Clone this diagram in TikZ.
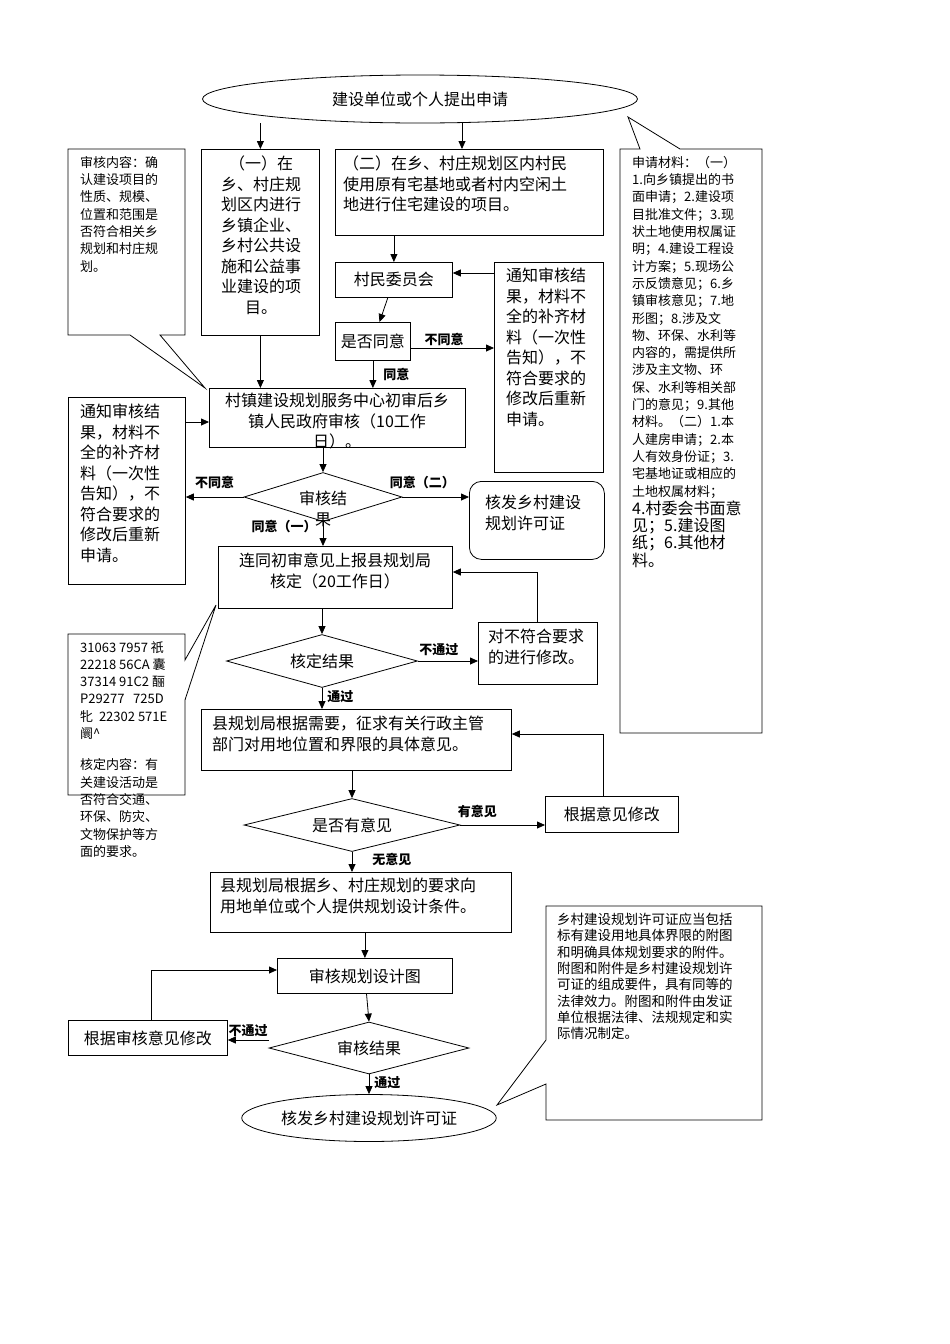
\documentclass[tikz,border=0pt]{standalone}
\usepackage{fontspec}
\setmainfont{Noto Sans CJK SC}
\usetikzlibrary{shapes.geometric,arrows.meta}
\begin{document}
\begin{tikzpicture}[x=1pt,y=-1pt,
  every node/.style={inner sep=2pt},
  box/.style={draw,line width=0.8pt,align=center,font=\fontsize{16}{20}\selectfont},
  dia/.style={draw,diamond,aspect=4.5,line width=0.8pt,font=\fontsize{16}{20}\selectfont,inner sep=0pt},
  arr/.style={-{Triangle[length=8pt,width=7pt]},line width=0.8pt},
  lab/.style={font=\fontsize{13}{15}\selectfont\bfseries},
  note/.style={align=left,font=\fontsize{13}{17.3}\selectfont,anchor=north west,inner sep=0pt},
  big/.style={font=\fontsize{16}{20.5}\selectfont},
  call/.style={draw,line width=0.8pt,fill=white}]
\useasboundingbox (0,0) rectangle (950,1344);
% callouts
\draw[call] (68,149) -- (185,149) -- (185,335) -- (160,335) -- (205,388) -- (130,335) -- (68,335) -- cycle;
\node[note] (n1) at (80,156) {审核内容：确\\认建设项目的\\性质、规模、\\位置和范围是\\否符合相关乡\\规划和村庄规\\划。};
\draw[call] (620,149) -- (640,149) -- (628,117) -- (680,149) -- (762,149) -- (762,733) -- (620,733) -- cycle;
\node[note] (n2) at (632,156) {申请材料：（一）\\1.向乡镇提出的书\\面申请；2.建设项\\目批准文件；3.现\\状土地使用权属证\\明；4.建设工程设\\计方案；5.现场公\\示反馈意见；6.乡\\镇审核意见；7.地\\形图；8.涉及文\\物、环保、水利等\\内容的，需提供所\\涉及主文物、环\\保、水利等相关部\\门的意见；9.其他\\材料。（二）1.本\\人建房申请；2.本\\人有效身份证；3.\\宅基地证或相应的\\土地权属材料；\\[1pt]{\fontsize{16}{20.5}\selectfont 4.村委会书面意}\\{\fontsize{16}{20.5}\selectfont 见；5.建设图}\\{\fontsize{16}{20.5}\selectfont 纸；6.其他材}\\{\fontsize{16}{20.5}\selectfont 料。}};
\draw[call] (68,634) -- (185,634) -- (185,660) -- (216,605) -- (185,700) -- (185,795) -- (68,795) -- cycle;
\node[note] (n3) at (80,641) {31063 7957 祇\\22218 56CA 囊\\37314 91C2 酾\\P29277 \ \ 725D\\牝 \ 22302 571E\\阛\textasciicircum\\[14pt]核定内容：有\\关建设活动是\\否符合交通、\\环保、防灾、\\文物保护等方\\面的要求。};
\draw[call] (546,906) -- (762,906) -- (762,1120) -- (546,1120) -- (546,1084) -- (497,1105) -- (546,1040) -- cycle;
\node[note,font=\fontsize{13.5}{16.3}\selectfont] (n4) at (557,913) {乡村建设规划许可证应当包括\\标有建设用地具体界限的附图\\和明确具体规划要求的附件。\\附图和附件是乡村建设规划许\\可证的组成要件，具有同等的\\法律效力。附图和附件由发证\\单位根据法律、法规规定和实\\际情况制定。};
% nodes
\node[draw,ellipse,line width=0.8pt,minimum width=435pt,minimum height=48pt,font=\fontsize{16}{20}\selectfont] (start) at (420,99) {建设单位或个人提出申请};
\node[box,minimum width=118pt,minimum height=186pt,anchor=north west] (b1) at (201,149) {};
\node[note,big,align=center,anchor=north] at (261,156) {（一）在\\乡、村庄规\\划区内进行\\乡镇企业、\\乡村公共设\\施和公益事\\业建设的项\\目。};
\node[box,minimum width=268pt,minimum height=86pt,anchor=north west] (b2) at (335,149) {};
\node[note,big] at (343,156) {（二）在乡、村庄规划区内村民\\使用原有宅基地或者村内空闲土\\地进行住宅建设的项目。};
\node[box,minimum width=117pt,minimum height=35pt,anchor=north west] (cwh) at (335,262) {};
\node at (cwh.center) [big] {村民委员会};
\node[box,minimum width=75pt,minimum height=38pt,anchor=north west] (sfty) at (335,322) {};
\node at (sfty.center) [big] {是否同意};
\node[box,minimum width=109pt,minimum height=210pt,anchor=north west] (tz1) at (494,262) {};
\node[note,big] at (506,268) {通知审核结\\果，材料不\\全的补齐材\\料（一次性\\告知），不\\符合要求的\\修改后重新\\申请。};
\node[box,minimum width=256pt,minimum height=59pt,anchor=north west] (cz) at (209,388) {};
\node[big,align=center,anchor=north] at (337,391) {村镇建设规划服务中心初审后乡\\镇人民政府审核（10工作\\日）。};
\node[box,minimum width=117pt,minimum height=187pt,anchor=north west] (tz2) at (68,397) {};
\node[note,big] at (80,404) {通知审核结\\果，材料不\\全的补齐材\\料（一次性\\告知），不\\符合要求的\\修改后重新\\申请。};
\node[dia,minimum width=158pt,minimum height=49pt] (shjg) at (323,497) {};
\node[big,align=center] at (323,509) {审核结\\果};
\node[box,rounded corners=12pt,minimum width=135pt,minimum height=78pt,anchor=north west] (hf1) at (469,481) {};
\node[big,align=left,anchor=north west] at (483,493) {核发乡村建设\\规划许可证};
\node[box,minimum width=234pt,minimum height=62pt,anchor=north west] (lt) at (218,546) {};
\node[big,align=center,anchor=north] at (335,551) {连同初审意见上报县规划局\\核定（20工作日）};
\node[dia,minimum width=191pt,minimum height=53pt] (hdjg) at (322,661) {核定结果};
\node[box,minimum width=119pt,minimum height=62pt,anchor=north west] (dbf) at (478,622) {};
\node[big,align=left,anchor=north west] at (486,627) {对不符合要求\\的进行修改。};
\node[box,minimum width=310pt,minimum height=61pt,anchor=north west] (xgh) at (201,709) {};
\node[big,align=left,anchor=north west] at (210,714) {县规划局根据需要，征求有关行政主管\\部门对用地位置和界限的具体意见。};
\node[dia,minimum width=216pt,minimum height=53pt] (yyj) at (352,825) {是否有意见};
\node[box,minimum width=133pt,minimum height=36pt,anchor=north west] (gjyj) at (545,796) {};
\node at (gjyj.center) [big] {根据意见修改};
\node[box,minimum width=301pt,minimum height=60pt,anchor=north west] (tj) at (210,872) {};
\node[big,align=left,anchor=north west] at (218,876) {县规划局根据乡、村庄规划的要求向\\用地单位或个人提供规划设计条件。};
\node[box,minimum width=175pt,minimum height=35pt,anchor=north west] (shsj) at (277,958) {};
\node at (shsj.center) [big] {审核规划设计图};
\node[dia,minimum width=200pt,minimum height=52pt] (shjg2) at (369,1048) {审核结果};
\node[box,minimum width=159pt,minimum height=35pt,anchor=north west] (gjsh) at (68,1020) {};
\node at (gjsh.center) [big] {根据审核意见修改};
\node[draw,ellipse,line width=0.8pt,minimum width=252pt,minimum height=47pt,font=\fontsize{16}{20}\selectfont] (end) at (369,1118) {核发乡村建设规划许可证};
% connectors
\draw[arr] (start.south -| b1.north) -- (b1.north);
\draw[arr] (462,123) -- (462,149);
\draw[arr] (b2.south -| cwh) -- (cwh.north);
\draw[arr] (cwh) -- (sfty);
\draw[arr] (sfty.east |- 0,348) -- (tz1.west |- 0,348) node[lab,pos=0.4,above] {不同意};
\draw[arr] (tz1.west |- 0,273) -- (cwh.east |- 0,273);
\draw[arr] (sfty.south) -- (cz.north -| sfty) node[lab,pos=0.5,right=8pt] {同意};
\draw[arr] (b1.south) -- (cz.north -| b1);
\draw[arr] (tz2.east |- 0,422) -- (cz.west |- 0,422);
\draw[arr] (cz.south -| shjg) -- (shjg.north);
\draw[arr] (shjg.west) -- (tz2.east |- shjg) node[lab,pos=0.5,above=6pt] {不同意};
\draw[arr] (shjg.east) -- (hf1.west |- shjg) node[lab,pos=0.3,above=6pt] {同意（二）};
\draw[arr] (shjg.south) -- (lt.north -| shjg) node[lab,pos=0.2,left=4pt] {同意（一）};
\draw[arr] (lt.south -| hdjg) -- (hdjg.north);
\draw[arr] (hdjg.east) -- (dbf.west |- hdjg) node[lab,pos=0.35,above=3pt] {不通过};
\draw[arr] (dbf.north -| 537,0) -- (537,572) -- (lt.east |- 0,572);
\draw[arr] (hdjg.south) -- (xgh.north -| hdjg) node[lab,pos=0.4,right=3pt] {通过};
\draw[arr] (xgh.south -| yyj) -- (yyj.north);
\draw[arr] (yyj.east) -- (gjyj.west |- yyj) node[lab,pos=0.2,above=5pt] {有意见};
\draw[arr] (gjyj.north -| 603,0) -- (603,734) -- (xgh.east |- 0,734);
\draw[arr] (yyj.south) -- (tj.north -| yyj) node[lab,pos=0.4,right=18pt] {无意见};
\draw[arr] (tj.south -| shsj) -- (shsj.north);
\draw[arr] (shsj) -- (shjg2.north);
\draw[arr] (shjg2.west |- 0,1040) -- (gjsh.east |- 0,1040) node[lab,pos=0.5,above=1pt] {不通过};
\draw[arr] (gjsh.north -| 151,0) -- (151,970) -- (shsj.west |- 0,970);
\draw[arr] (shjg2.south) -- (end.north) node[lab,pos=0.4,right=3pt] {通过};
\end{tikzpicture}
\end{document}
